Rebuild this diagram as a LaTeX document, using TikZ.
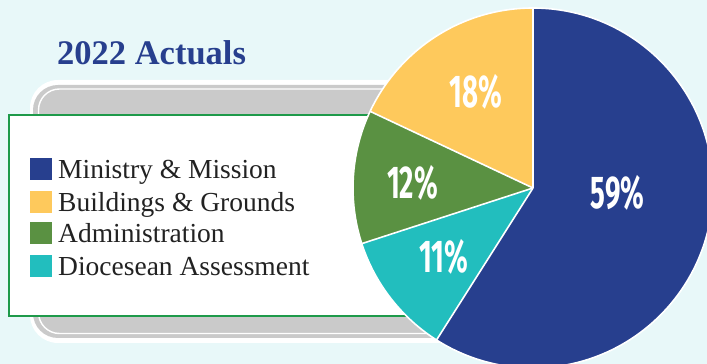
\documentclass[tikz,border=0pt]{standalone}
\usepackage{fontspec}
\setmainfont{Liberation Serif}
\newfontfamily\pctfont{Fira Sans}
\definecolor{bg}{HTML}{E8F8F9}
\definecolor{mblue}{HTML}{273F8E}
\definecolor{myellow}{HTML}{FEC95C}
\definecolor{mgreen}{HTML}{5A9142}
\definecolor{mteal}{HTML}{22BEBE}
\definecolor{boxgreen}{HTML}{1E9A4A}
\definecolor{boxgray}{HTML}{CACACA}
\definecolor{txt}{HTML}{222222}
\tikzset{
  slice/.style={draw=white, line width=1.6pt, line join=round},
  pct/.style={text=white, font=\pctfont\bfseries\fontsize{46}{46}\selectfont, inner sep=0pt},
  legsq/.style={minimum width=22pt, minimum height=22pt, inner sep=0pt, anchor=south west},
  legtxt/.style={text=txt, font=\fontsize{27.5}{27.5}\selectfont, inner sep=0pt, anchor=base west}
}
\begin{document}
\begin{tikzpicture}[x=1pt,y=1pt]
\useasboundingbox (0,0) rectangle (707,364);
\clip (0,0) rectangle (707,364);
\fill[bg] (0,0) rectangle (707,364);
% title
\node[text=mblue, font=\bfseries\fontsize{34.5}{34.5}\selectfont, anchor=base west, inner sep=0pt] (title) at (57,299) {2022 Actuals};
% gray rounded panel
\fill[white, rounded corners=28pt] (30,21) rectangle (540,284);
\fill[boxgray, rounded corners=25pt] (33,26) rectangle (537,279);
\draw[white, line width=1.4pt, rounded corners=21pt] (38.5,30.5) rectangle (532,275);
% legend box
\node[draw=boxgreen, line width=2.2pt, fill=white, anchor=south west, minimum width=480pt, minimum height=201pt, inner sep=0pt] (legend) at (8,47) {};
% legend entries
\node[legsq, fill=mblue] (sq1) at (30,184) {};
\node[legsq, fill=myellow] (sq2) at (30,151) {};
\node[legsq, fill=mgreen] (sq3) at (30,120) {};
\node[legsq, fill=mteal] (sq4) at (30,87) {};
\node[legtxt] (t1) at (58,185.5) {Ministry \& Mission};
\node[legtxt] (t2) at (58,152.5) {Buildings \& Grounds};
\node[legtxt] (t3) at (58,121.5) {Administration};
\node[legtxt] (t4) at (58,88.5) {Diocesean Assessment};
% pie
\coordinate (c) at (533,176);
\fill[mblue] (c) -- ++(90:180) arc[start angle=90, end angle=-122.4, radius=180] -- cycle;
\fill[mteal] (c) -- ++(237.6:180) arc[start angle=237.6, end angle=198, radius=180] -- cycle;
\fill[mgreen] (c) -- ++(198:180) arc[start angle=198, end angle=154.8, radius=180] -- cycle;
\fill[myellow] (c) -- ++(154.8:180) arc[start angle=154.8, end angle=90, radius=180] -- cycle;
\draw[slice] (c) circle[radius=180];
\draw[slice] (c) -- ++(90:180);
\draw[slice] (c) -- ++(237.6:180);
\draw[slice] (c) -- ++(198:180);
\draw[slice] (c) -- ++(154.8:180);
% labels
\node[pct] (p59) at (617.5,171) {\scalebox{0.6}[1]{59\%}};
\node[pct] (p18) at (476,272) {\scalebox{0.6}[1]{18\%}};
\node[pct] (p12) at (412.5,181.5) {\scalebox{0.6}[1]{12\%}};
\node[pct] (p11) at (444,107) {\scalebox{0.6}[1]{11\%}};
\end{tikzpicture}
\end{document}
